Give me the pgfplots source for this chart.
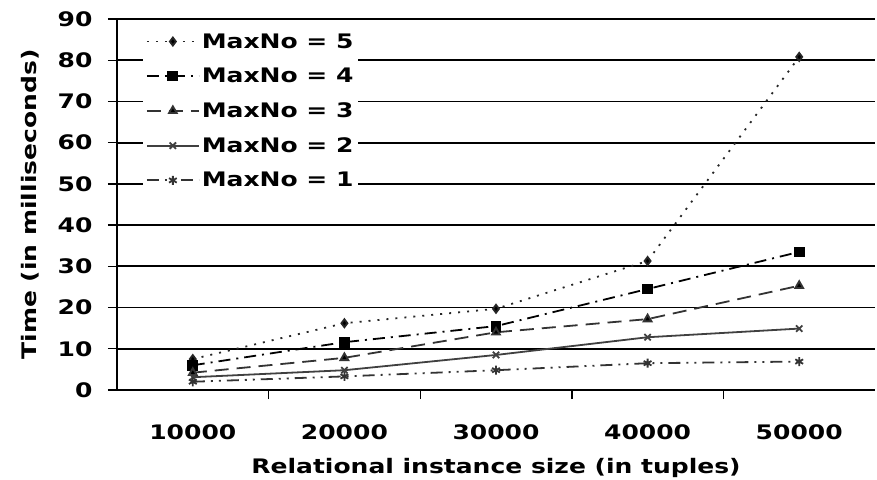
\documentclass[border=0pt]{standalone}
\usepackage{fontspec}
\setmainfont{DejaVu Sans}[FakeStretch=1.25]
\usepackage{pgfplots}
\pgfplotsset{compat=1.18}
\begin{document}
\begin{tikzpicture}
\begin{axis}[
  scale only axis,
  width=758pt, height=371pt,
  xmin=0.5, xmax=5.5, ymin=0, ymax=90,
  axis lines=left, axis line style={-, black, line width=1.8pt},
  /pgf/number format/assume math mode=true,
  font=\fontsize{20}{24}\selectfont\bfseries,
  xtick={1,2,3,4,5},
  xticklabels={10000,20000,30000,40000,50000},
  major x tick style={draw=none},
  minor xtick={1.5,2.5,3.5,4.5},
  minor x tick style={black, line width=1.4pt},
  ytick={0,10,...,90},
  ymajorgrids, grid style={black, line width=1.7pt},
  major y tick style={black, line width=1.4pt},
  tick align=outside,
  major tick length=9pt, minor tick length=9pt,
  yticklabel style={xshift=-12pt},
  xticklabel style={yshift=-22pt},
  xlabel={Relational instance size (in tuples)},
  ylabel={Time (in milliseconds)},
  xlabel style={at={(axis description cs:0.5,-0.21)}, anchor=center},
  ylabel style={at={(axis description cs:-0.115,0.5)}, anchor=center},
  legend style={at={(rel axis cs:0.034,0.975)}, anchor=north west, draw=none, fill=white,
    row sep=14.5pt, font=\fontsize{20}{24}\selectfont\bfseries, inner sep=3pt},
  legend cell align=left,
  legend image code/.code={%
    \draw[mark repeat=2,mark phase=2,#1] plot coordinates {(0pt,0pt) (26pt,0pt) (52pt,0pt)};},
]
\coordinate (bl) at (rel axis cs:0,0);
\addplot[black!85, line width=1.8pt, dash pattern=on 2pt off 7pt, mark=diamond*, mark size=4pt, mark options={solid, fill=black}]
  coordinates {(1,7.5) (2,16.2) (3,19.7) (4,31.3) (5,80.8)};
\addlegendentry{MaxNo = 5}
\addplot[black, line width=1.8pt, dash pattern=on 12pt off 6pt on 2pt off 6pt, mark=square*, mark size=4.5pt, mark options={solid, fill=black}]
  coordinates {(1,6.0) (2,11.6) (3,15.5) (4,24.5) (5,33.5)};
\addlegendentry{MaxNo = 4}
\addplot[black!80, line width=1.8pt, dash pattern=on 14pt off 8pt, mark=triangle*, mark size=4.5pt, mark options={solid, fill=black}]
  coordinates {(1,4.2) (2,7.8) (3,14.0) (4,17.2) (5,25.3)};
\addlegendentry{MaxNo = 3}
\addplot[black!75, line width=1.8pt, mark=x, mark size=4.5pt, mark options={solid}]
  coordinates {(1,3.1) (2,4.8) (3,8.5) (4,12.8) (5,14.9)};
\addlegendentry{MaxNo = 2}
\addplot[black!80, line width=1.8pt, dash pattern=on 12pt off 6pt on 2pt off 6pt on 2pt off 6pt, mark=asterisk, mark size=4.5pt, mark options={solid}]
  coordinates {(1,2.0) (2,3.3) (3,4.8) (4,6.5) (5,6.9)};
\addlegendentry{MaxNo = 1}
\end{axis}
\pgfresetboundingbox
\path[use as bounding box] ([shift={(-117pt,-89pt)}]bl) rectangle ([shift={(760pt,390pt)}]bl);
\end{tikzpicture}
\end{document}
